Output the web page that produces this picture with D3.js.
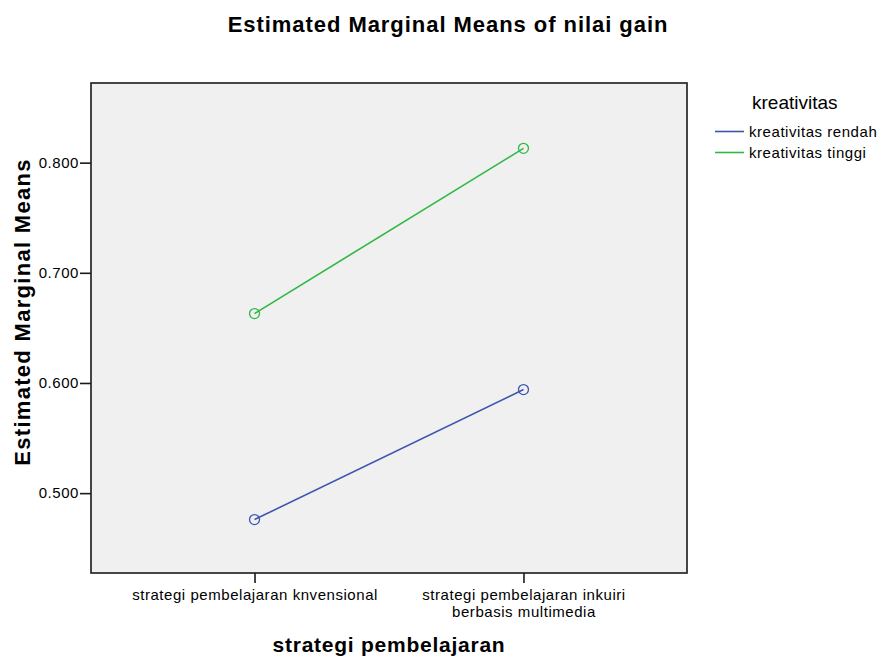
<!DOCTYPE html>
<html>
<head>
<meta charset="utf-8">
<script src="https://cdn.jsdelivr.net/npm/d3@7"></script>
<style>
    body { margin: 0; background: #fff; }
    text { font-family: "Liberation Sans", Arial, sans-serif; fill: #000; }
    .title { font-weight: bold; }
    .tick-label { font-size: 15px; letter-spacing: 0.55px; }
</style>
</head>
<body>
<div id="chart"></div>
<script>
// data
let categories = ["strategi pembelajaran knvensional", "strategi pembelajaran inkuiri\nberbasis multimedia"];
let seriesNames = ["kreativitas rendah", "kreativitas tinggi"];
let rendahValues = [0.476, 0.594];
let tinggiValues = [0.663, 0.813];
let yTicks = [0.5, 0.6, 0.7, 0.8];

let colors = ["#3e56b0", "#2fb844"];

let margin = {top: 83, left: 91, right: 194, bottom: 84};
let totalW = 881, totalH = 657;
let width = totalW - margin.left - margin.right;
let height = totalH - margin.top - margin.bottom;

let svg = d3.select("#chart").append("svg")
    .attr("width", totalW)
    .attr("height", totalH);

let g = svg.append("g")
    .attr("transform", "translate(" + margin.left + "," + margin.top + ")");

// scales
let x = d3.scalePoint()
    .domain(categories)
    .range([0, width])
    .padding(0.608);

let y = d3.scaleLinear()
    .domain([0.4275, 0.8723])
    .range([height, 0]);

// plot background
g.append("rect")
    .attr("width", width)
    .attr("height", height)
    .attr("fill", "#f0f0f0");

// series
let series = [rendahValues, tinggiValues].map((vals, i) => ({
    name: seriesNames[i],
    color: colors[i],
    values: vals.map((v, j) => ({cat: categories[j], value: v}))
}));

let line = d3.line()
    .x(d => x(d.cat))
    .y(d => y(d.value));

series.forEach(s => {
    g.append("path")
        .datum(s.values)
        .attr("fill", "none")
        .attr("stroke", s.color)
        .attr("stroke-width", 1.6)
        .attr("d", line);

    g.selectAll(null)
        .data(s.values)
        .enter().append("circle")
        .attr("cx", d => x(d.cat))
        .attr("cy", d => y(d.value))
        .attr("r", 5)
        .attr("fill", "none")
        .attr("stroke", s.color)
        .attr("stroke-width", 1.3);
});

// frame
g.append("rect")
    .attr("width", width)
    .attr("height", height)
    .attr("fill", "none")
    .attr("stroke", "#1a1a1a")
    .attr("stroke-width", 1.6);

// y axis
let yAxis = d3.axisLeft(y)
    .tickValues(yTicks)
    .tickSize(11)
    .tickPadding(1)
    .tickFormat(d3.format(".3f"));

let yG = g.append("g").call(yAxis);
yG.select(".domain").remove();
yG.selectAll(".tick line").attr("stroke", "#1a1a1a").attr("stroke-width", 1.6);
yG.selectAll(".tick text").attr("class", "tick-label").attr("font-size", null).attr("font-family", null);

// x axis
let xAxis = d3.axisBottom(x)
    .tickSize(10)
    .tickFormat("");

let xG = g.append("g")
    .attr("transform", "translate(0," + height + ")")
    .call(xAxis);
xG.select(".domain").remove();
xG.selectAll(".tick line").attr("stroke", "#1a1a1a").attr("stroke-width", 1.6);

// one text per line so wrapped labels keep their own boxes
xG.selectAll(".tick").each(function (d) {
    let lines = d.split("\n");
    lines.forEach((l, i) => {
        d3.select(this).append("text")
            .attr("class", "tick-label")
            .attr("text-anchor", "middle")
            .attr("y", 27 + i * 17)
            .text(l);
    });
});

// titles
svg.append("text")
    .attr("class", "title")
    .attr("x", 448)
    .attr("y", 32)
    .attr("font-size", 22)
    .attr("letter-spacing", 0.95)
    .attr("text-anchor", "middle")
    .text("Estimated Marginal Means of nilai gain");

svg.append("text")
    .attr("class", "title")
    .attr("x", margin.left + width / 2)
    .attr("y", 652)
    .attr("font-size", 21)
    .attr("letter-spacing", 0.75)
    .attr("text-anchor", "middle")
    .text("strategi pembelajaran");

svg.append("text")
    .attr("class", "title")
    .attr("transform", "translate(30,312) rotate(-90)")
    .attr("font-size", 22)
    .attr("letter-spacing", 1.3)
    .attr("text-anchor", "middle")
    .text("Estimated Marginal Means");

// legend
let legend = svg.append("g").attr("transform", "translate(715,0)");

legend.append("text")
    .attr("x", 37)
    .attr("y", 109)
    .attr("font-size", 19)
    .text("kreativitas");

series.forEach((s, i) => {
    let ly = 131.5 + i * 21;
    legend.append("line")
        .attr("x1", 0).attr("x2", 29)
        .attr("y1", ly).attr("y2", ly)
        .attr("stroke", s.color)
        .attr("stroke-width", 1.6);
    legend.append("text")
        .attr("class", "tick-label")
        .attr("x", 34)
        .attr("y", ly + 5.5)
        .text(s.name);
});
</script>
</body>
</html>
